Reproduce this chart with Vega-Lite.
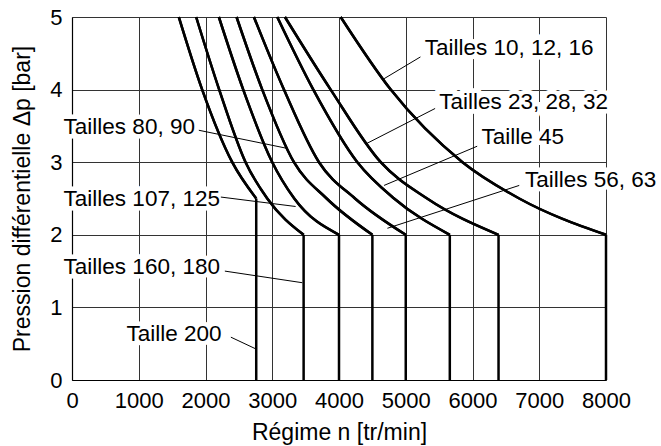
{
  "$schema": "https://vega.github.io/schema/vega-lite/v6.json",
  "width": 534,
  "height": 363,
  "autosize": "none",
  "padding": {"left": 72, "top": 17, "right": 55, "bottom": 66},
  "background": "white",
  "datasets": {
    "curves": [
      {"curve": "c1", "n": 1600, "p": 5}, {"curve": "c1", "n": 1950, "p": 4}, {"curve": "c1", "n": 2400, "p": 3}, {"curve": "c1", "n": 2760, "p": 2.5},
      {"curve": "c2", "n": 1860, "p": 5}, {"curve": "c2", "n": 2205, "p": 4}, {"curve": "c2", "n": 2600, "p": 3}, {"curve": "c2", "n": 2925, "p": 2.5}, {"curve": "c2", "n": 3470, "p": 2},
      {"curve": "c3", "n": 2200, "p": 5}, {"curve": "c3", "n": 2565, "p": 4}, {"curve": "c3", "n": 3000, "p": 3}, {"curve": "c3", "n": 3330, "p": 2.5}, {"curve": "c3", "n": 4000, "p": 2},
      {"curve": "c4", "n": 2465, "p": 5}, {"curve": "c4", "n": 2850, "p": 4}, {"curve": "c4", "n": 3325, "p": 3}, {"curve": "c4", "n": 3815, "p": 2.5}, {"curve": "c4", "n": 4500, "p": 2},
      {"curve": "c5", "n": 2725, "p": 5}, {"curve": "c5", "n": 3175, "p": 4}, {"curve": "c5", "n": 3700, "p": 3}, {"curve": "c5", "n": 4240, "p": 2.5}, {"curve": "c5", "n": 5000, "p": 2},
      {"curve": "c6", "n": 3075, "p": 5}, {"curve": "c6", "n": 3615, "p": 4}, {"curve": "c6", "n": 4275, "p": 3}, {"curve": "c6", "n": 4825, "p": 2.5}, {"curve": "c6", "n": 5660, "p": 2},
      {"curve": "c7", "n": 3190, "p": 5}, {"curve": "c7", "n": 3875, "p": 4}, {"curve": "c7", "n": 4625, "p": 3}, {"curve": "c7", "n": 5320, "p": 2.5}, {"curve": "c7", "n": 6390, "p": 2},
      {"curve": "c8", "n": 4025, "p": 5}, {"curve": "c8", "n": 4775, "p": 4}, {"curve": "c8", "n": 5850, "p": 3}, {"curve": "c8", "n": 6700, "p": 2.5}, {"curve": "c8", "n": 8000, "p": 2}
    ],
    "verticals": [
      {"n": 2760, "p0": 0, "p": 2.5}, {"n": 3470, "p0": 0, "p": 2}, {"n": 4000, "p0": 0, "p": 2}, {"n": 4500, "p0": 0, "p": 2},
      {"n": 5000, "p0": 0, "p": 2}, {"n": 5660, "p0": 0, "p": 2}, {"n": 6390, "p0": 0, "p": 2}, {"n": 8000, "p0": 0, "p": 2}
    ],
    "labels": [
      {"label": "Tailles 10, 12, 16", "lx": 5285, "ly": 4.57, "x1": 5220, "y1": 4.45, "x2": 4675, "y2": 4.15},
      {"label": "Tailles 23, 28, 32", "lx": 5500, "ly": 3.83, "x1": 5440, "y1": 3.74, "x2": 4420, "y2": 3.26},
      {"label": "Taille 45", "lx": 6135, "ly": 3.35, "x1": 6070, "y1": 3.22, "x2": 4675, "y2": 2.68},
      {"label": "Tailles 56, 63", "lx": 6785, "ly": 2.75, "x1": 6700, "y1": 2.68, "x2": 4725, "y2": 2.09},
      {"label": "Tailles 80, 90", "lx": -126, "ly": 3.49, "x1": 1900, "y1": 3.44, "x2": 3225, "y2": 3.19},
      {"label": "Tailles 107, 125", "lx": -126, "ly": 2.49, "x1": 2230, "y1": 2.52, "x2": 3350, "y2": 2.39},
      {"label": "Tailles 160, 180", "lx": -126, "ly": 1.56, "x1": 2290, "y1": 1.5, "x2": 3450, "y2": 1.34},
      {"label": "Taille 200", "lx": 815, "ly": 0.63, "x1": 2380, "y1": 0.59, "x2": 2750, "y2": 0.43}
    ]
  },
  "layer": [
    {
      "data": {"name": "curves"},
      "mark": {"type": "line", "interpolate": "monotone", "color": "black", "strokeWidth": 2.5},
      "encoding": {
        "x": {
          "field": "n", "type": "quantitative",
          "scale": {"domain": [0, 8000], "nice": false, "zero": false},
          "axis": {"title": "Régime n [tr/min]"}
        },
        "y": {
          "field": "p", "type": "quantitative",
          "scale": {"domain": [0, 5], "nice": false},
          "axis": {"title": "Pression différentielle Δp [bar]"}
        },
        "detail": {"field": "curve", "type": "nominal"}
      }
    },
    {
      "data": {"name": "labels"},
      "mark": {"type": "text", "align": "left", "baseline": "middle", "fontSize": 22.5, "font": "Liberation Sans", "fill": "white", "stroke": "white", "strokeWidth": 9},
      "encoding": {
        "x": {"field": "lx", "type": "quantitative", "axis": {"title": "Régime n [tr/min]"}},
        "y": {"field": "ly", "type": "quantitative", "axis": {"title": "Pression différentielle Δp [bar]"}},
        "text": {"field": "label", "type": "nominal"}
      }
    },
    {
      "data": {"name": "curves"},
      "mark": {"type": "line", "interpolate": "monotone", "color": "black", "strokeWidth": 2.5},
      "encoding": {
        "x": {"field": "n", "type": "quantitative", "axis": {"title": "Régime n [tr/min]"}},
        "y": {"field": "p", "type": "quantitative", "axis": {"title": "Pression différentielle Δp [bar]"}},
        "detail": {"field": "curve", "type": "nominal"}
      }
    },
    {
      "data": {"name": "verticals"},
      "mark": {"type": "rule", "color": "black", "strokeWidth": 2.5},
      "encoding": {
        "x": {"field": "n", "type": "quantitative", "axis": {"title": "Régime n [tr/min]"}},
        "y": {"field": "p0", "type": "quantitative", "axis": {"title": "Pression différentielle Δp [bar]"}},
        "y2": {"field": "p"}
      }
    },
    {
      "data": {"name": "labels"},
      "mark": {"type": "rule", "color": "black", "strokeWidth": 1},
      "encoding": {
        "x": {"field": "x1", "type": "quantitative", "axis": {"title": "Régime n [tr/min]"}},
        "y": {"field": "y1", "type": "quantitative", "axis": {"title": "Pression différentielle Δp [bar]"}},
        "x2": {"field": "x2"},
        "y2": {"field": "y2"}
      }
    },
    {
      "data": {"name": "labels"},
      "mark": {"type": "text", "align": "left", "baseline": "middle", "fontSize": 22.5, "font": "Liberation Sans", "color": "black"},
      "encoding": {
        "x": {"field": "lx", "type": "quantitative", "axis": {"title": "Régime n [tr/min]"}},
        "y": {"field": "ly", "type": "quantitative", "axis": {"title": "Pression différentielle Δp [bar]"}},
        "text": {"field": "label", "type": "nominal"}
      }
    }
  ],
  "config": {
    "view": {"stroke": null},
    "font": "Liberation Sans",
    "numberFormat": "d",
    "axis": {
      "grid": true, "gridColor": "#333", "gridWidth": 1, "gridOpacity": 1,
      "domainColor": "black", "domainWidth": 1.2,
      "ticks": false, "tickSize": 0,
      "labelFont": "Liberation Sans", "labelFontSize": 22, "labelColor": "black",
      "labelFlush": false, "labelOverlap": false, "labelPadding": 10,
      "titleFont": "Liberation Sans", "titleFontWeight": "normal", "titleColor": "black", "titleFontSize": 23
    },
    "axisX": {"tickCount": 8, "titlePadding": 10},
    "axisY": {"tickCount": 5, "titlePadding": 15}
  }
}
